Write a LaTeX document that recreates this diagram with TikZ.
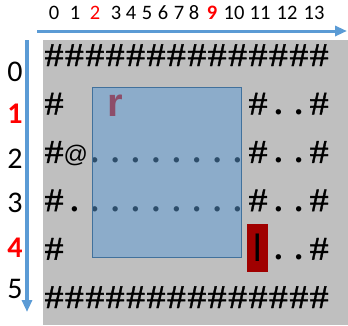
\documentclass[tikz,border=0pt]{standalone}
\usepackage{fontspec}
\setmainfont{Liberation Serif}
\newfontfamily\calibri{Carlito}
\newfontfamily\hashfont[FakeStretch=1.15,FakeBold=1.2]{Liberation Serif}
\newfontfamily\arialf{Liberation Sans}
\usetikzlibrary{arrows.meta}
\definecolor{bggray}{HTML}{BFBFBF}
\definecolor{axisblue}{HTML}{5B9BD5}
\definecolor{roomedge}{HTML}{41719C}
\definecolor{lockred}{HTML}{A00000}
\definecolor{numred}{HTML}{FF0000}
\definecolor{keyred}{HTML}{C00000}
\tikzset{
    axis/.style = {draw=axisblue, line width=3pt, -{Triangle[length=12pt,width=10pt]}},
    colnum/.style = {anchor=base, inner sep=0, font=\calibri\fontsize{20.5}{20.5}\selectfont},
    rownum/.style = {anchor=base, inner sep=0, font=\calibri\fontsize{30}{30}\selectfont},
    hot/.style = {text=numred},
    cell/.style = {anchor=base, inner sep=0, font=\hashfont\fontsize{33}{33}\selectfont},
    dot/.style = {cell, font=\bfseries\fontsize{33}{33}\selectfont},
    lockbox/.style = {fill=lockred, minimum width=21pt, minimum height=48pt, inner sep=0}
}

\begin{document}
\begin{tikzpicture}[x=1pt, y=-1pt]
    \useasboundingbox (0,0) rectangle (348,325);
    \fill[bggray] (43,40) rectangle (348,325);

    % axes
    \coordinate (xfrom) at (37,31);
    \coordinate (xto) at (347,31);
    \coordinate (yfrom) at (27,40);
    \coordinate (yto) at (27,312);
    \draw[axis] (xfrom) -- (xto);
    \draw[axis, line width=3.5pt] (yfrom) -- (yto);

    \foreach \n/\x in {0/54,1/75,3/116,4/131,5/147,6/163,7/179,8/194,10/234,11/260,12/287,13/314}
        \node[colnum] (col\n) at (\x,19.5) {\n};
    \node[colnum, hot] (col2) at (95,19.5) {2};
    \node[colnum, hot] (col9) at (212,19.5) {\bfseries 9};

    \foreach \n/\y in {0/81,2/168,3/212,5/298}
        \node[rownum] (row\n) at (15,\y) {\n};
    \node[rownum, hot] (row1) at (15,123) {\bfseries 1};
    \node[rownum, hot] (row4) at (15,257) {\bfseries 4};

    \node[lockbox] (lock) at (257.5,248) {};

    \begin{scope}[shift={(54,66)}, x=20.4pt, y=-48.4pt]
        \foreach \c in {0,...,13} {
            \node[cell] (top\c) at (\c,0) {\#};
            \node[cell] (bot\c) at (\c,5) {\#};
        }
        \foreach \r in {1,...,4} {
            \node[cell] (left\r) at (0,\r) {\#};
            \node[cell] (right\r) at (13,\r) {\#};
            \node[dot] (a\r) at (11,\r) {.};
            \node[dot] (b\r) at (12,\r) {.};
        }
        \foreach \r in {1,2,3}
            \node[cell] (door\r) at (10,\r) {\#};
        \foreach \r in {2,3}
            \foreach \c in {2,...,9}
                \node[dot] (f\r-\c) at (\c,\r) {.};
        \node[cell, xshift=1.5pt, font=\arialf\fontsize{24}{24}\selectfont] (player) at (1,2) {@};
        \node[dot] (f3-1) at (1,3) {.};
        \node[cell, yshift=-2pt, font=\arialf\fontsize{38}{38}\selectfont] (lever) at (10,4) {l};
        \node[cell, text=keyred, font=\arialf\bfseries\fontsize{40}{40}\selectfont] (key) at (3,1.05) {r};
    \end{scope}

    % the room, see-through
    \fill[axisblue, fill opacity=0.5] (92,87) rectangle (241,257);
    \draw[roomedge, line width=0.8pt] (92,87) rectangle (241,257);
\end{tikzpicture}
\end{document}
